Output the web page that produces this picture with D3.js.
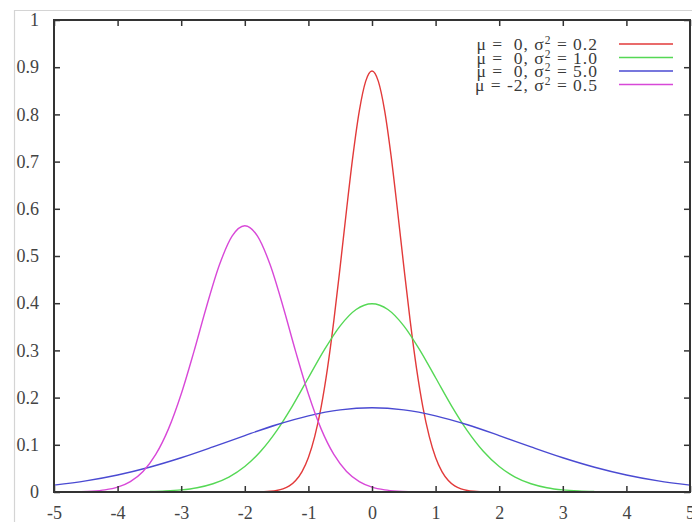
<!DOCTYPE html>
<html><head><meta charset="utf-8">
<script src="https://cdn.jsdelivr.net/npm/d3@7"></script>
<style>html,body{margin:0;padding:0;background:#fff;overflow:hidden}</style>
</head><body>
<svg id="c" width="692" height="522"></svg>
<script>
// ---- data ----
const xTicks = [-5,-4,-3,-2,-1,0,1,2,3,4,5];
const yTicks = [0,0.1,0.2,0.3,0.4,0.5,0.6,0.7,0.8,0.9,1];
const xTickLabels = ["-5","-4","-3","-2","-1","0","1","2","3","4","5"];
const yTickLabels = ["0","0.1","0.2","0.3","0.4","0.5","0.6","0.7","0.8","0.9","1"];
const seriesNames = ["μ =  0, σ² = 0.2","μ =  0, σ² = 1.0","μ =  0, σ² = 5.0","μ = -2, σ² = 0.5"];
const seriesColors = ["#e23a3a","#55d855","#4a4ad2","#d848d8"];

// red: mu=0, s2=0.2
const redX = [-5,-3,-2.0,-1.9,-1.8,-1.7,-1.6,-1.5,-1.4,-1.3,-1.2,-1.1,-1.0,-0.9,-0.8,-0.7,-0.6,-0.5,-0.4,-0.3,-0.2,-0.1,0,0.1,0.2,0.3,0.4,0.5,0.6,0.7,0.8,0.9,1.0,1.1,1.2,1.3,1.4,1.5,1.6,1.7,1.8,1.9,2.0,3,5];
const redY = [0,0,0.0000,0.0001,0.0003,0.0006,0.0015,0.0032,0.0066,0.0130,0.0244,0.0433,0.0732,0.118,0.180,0.262,0.363,0.478,0.598,0.712,0.807,0.870,0.892,0.870,0.807,0.712,0.598,0.478,0.363,0.262,0.180,0.118,0.0732,0.0433,0.0244,0.0130,0.0066,0.0032,0.0015,0.0006,0.0003,0.0001,0.0000,0,0];
// green: mu=0, s2=1.0
const greenX = [-5,-4.75,-4.5,-4.25,-4,-3.75,-3.5,-3.25,-3,-2.75,-2.5,-2.25,-2,-1.75,-1.5,-1.25,-1,-0.75,-0.5,-0.25,0,0.25,0.5,0.75,1,1.25,1.5,1.75,2,2.25,2.5,2.75,3,3.25,3.5,3.75,4,4.25,4.5,4.75,5];
const greenY = [0,0,0,0.00005,0.0001,0.0004,0.0009,0.0020,0.0044,0.0091,0.0175,0.0317,0.0540,0.0863,0.1295,0.1826,0.2420,0.3011,0.3521,0.3867,0.3989,0.3867,0.3521,0.3011,0.2420,0.1826,0.1295,0.0863,0.0540,0.0317,0.0175,0.0091,0.0044,0.0020,0.0009,0.0004,0.0001,0.00005,0,0,0];
// blue: mu=0, s2=5.0
const blueX = [-5,-4.5,-4,-3.5,-3,-2.5,-2,-1.5,-1,-0.5,0,0.5,1,1.5,2,2.5,3,3.5,4,4.5,5];
const blueY = [0.0146,0.0235,0.0360,0.0524,0.0725,0.0955,0.1196,0.1425,0.1614,0.1740,0.1784,0.1740,0.1614,0.1425,0.1196,0.0955,0.0725,0.0524,0.0360,0.0235,0.0146];
// magenta: mu=-2, s2=0.5
const magX = [-5,-4.8,-4.6,-4.4,-4.2,-4.0,-3.8,-3.6,-3.4,-3.2,-3.0,-2.8,-2.6,-2.4,-2.2,-2.0,-1.8,-1.6,-1.4,-1.2,-1.0,-0.8,-0.6,-0.4,-0.2,0,0.2,0.4,0.6,0.8,1.0,3,5];
const magY = [0.0001,0.0002,0.0007,0.0018,0.0045,0.0103,0.0221,0.0436,0.0795,0.1337,0.2076,0.2975,0.3936,0.4808,0.5421,0.5642,0.5421,0.4808,0.3936,0.2975,0.2076,0.1337,0.0795,0.0436,0.0221,0.0103,0.0045,0.0018,0.0007,0.0002,0.0001,0,0];

const seriesX = [redX, greenX, blueX, magX];
const seriesY = [redY, greenY, blueY, magY];

// ---- drawing ----
const svg = d3.select("#c");
const pL = 54, pR = 690, pT = 20, pB = 492;
const x = d3.scaleLinear().domain([-5,5]).range([pL,pR]);
const y = d3.scaleLinear().domain([0,1]).range([pB,pT]);
const font = "'Liberation Serif','Times New Roman',serif";

// light outer border of screenshot
svg.append("path").attr("d", `M14.5,522 L14.5,10.5 L692,10.5`)
  .attr("fill","none").attr("stroke","#d4d4d4").attr("stroke-width",1.2);

svg.append("defs").append("clipPath").attr("id","clip")
  .append("rect").attr("x",pL).attr("y",pT).attr("width",pR-pL).attr("height",pB-pT);

// curves
const line = d3.line().x(d=>x(d[0])).y(d=>y(d[1])).curve(d3.curveMonotoneX);
const g = svg.append("g").attr("clip-path","url(#clip)");
seriesX.forEach((xs,i)=>{
  const pts = xs.map((v,j)=>[v, seriesY[i][j]]);
  g.append("path").datum(pts).attr("d",line)
    .attr("fill","none").attr("stroke",seriesColors[i]).attr("stroke-width",1.4);
});

// axes (ticks inward, mirrored)
const tl = 6;
const axB = d3.axisBottom(x).tickValues(xTicks).tickSize(-tl).tickFormat((d,i)=>xTickLabels[i]).tickPadding(14);
const axT = d3.axisTop(x).tickValues(xTicks).tickSize(-tl).tickFormat("");
const axL = d3.axisLeft(y).tickValues(yTicks).tickSize(-tl).tickFormat((d,i)=>yTickLabels[i]).tickPadding(15);
const axR = d3.axisRight(y).tickValues(yTicks).tickSize(-tl).tickFormat("");
function style(sel){
  sel.select(".domain").remove();
  sel.selectAll("line").attr("stroke","#333").attr("stroke-width",1.5);
  sel.selectAll("text").attr("font-family",font).attr("font-size",18).attr("fill","#444");
}
svg.append("g").attr("transform",`translate(0,${pB})`).call(axB).call(style);
svg.append("g").attr("transform",`translate(0,${pT})`).call(axT).call(style);
svg.append("g").attr("transform",`translate(${pL},0)`).call(axL).call(style);
svg.append("g").attr("transform",`translate(${pR},0)`).call(axR).call(style);

// frame
svg.append("rect").attr("x",pL).attr("y",pT).attr("width",pR-pL).attr("height",pB-pT)
  .attr("fill","none").attr("stroke","#333").attr("stroke-width",2);

// legend
const legY = [44,57.5,71,84.5];
seriesNames.forEach((name,i)=>{
  const t = svg.append("text").attr("x",598).attr("y",legY[i]).attr("dy","0.35em")
    .attr("text-anchor","end").attr("font-family",font).attr("font-size",17.5).attr("fill","#3a3a3a")
    .attr("letter-spacing","1px").style("white-space","pre");
  const parts = name.split("²");
  t.append("tspan").text(parts[0]);
  t.append("tspan").attr("dy",-6).attr("font-size",11.5).text("2");
  t.append("tspan").attr("dy",6).text(parts[1]);
  svg.append("line").attr("x1",619).attr("x2",673).attr("y1",legY[i]).attr("y2",legY[i])
    .attr("stroke",seriesColors[i]).attr("stroke-width",1.6);
});
</script>
</body></html>
